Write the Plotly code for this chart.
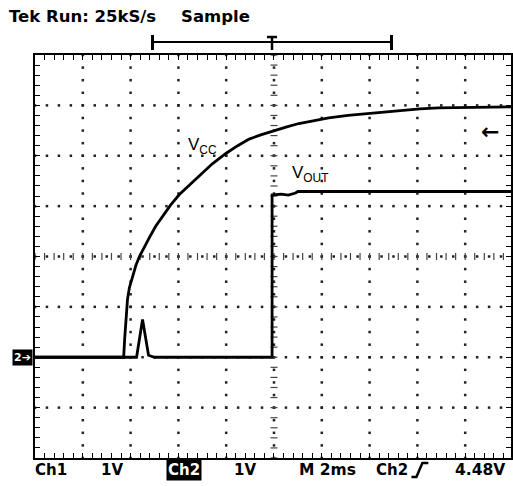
import numpy as np
import plotly.graph_objects as go

# ---- data (time in ms, voltage in V) ----
vcc_t = [-10, -6.29, -6.25, -6.21, -6.17, -6.13, -6.05, -5.92, -5.78, -5.63, -5.42, -5.21, -4.95, -4.67, -4.33, -3.96, -3.55, -3.13, -2.58, -2.0, -1.52, -1.04, -0.52, 0.0, 0.5, 1.04, 1.65, 2.29, 3.1, 4.0, 4.7, 5.42, 6.1, 6.88, 8.3, 9.92]
vcc_v = [0.0, 0.0, 0.35, 0.70, 0.95, 1.15, 1.38, 1.62, 1.82, 2.00, 2.20, 2.38, 2.60, 2.80, 3.02, 3.23, 3.42, 3.60, 3.84, 4.05, 4.20, 4.33, 4.42, 4.50, 4.57, 4.64, 4.70, 4.75, 4.80, 4.84, 4.88, 4.91, 4.93, 4.95, 4.96, 4.97]

vout_t = [-10, -5.75, -5.5, -5.25, -5.0, -0.08, -0.08, 0.3, 0.6, 0.9, 1.0, 9.92]
vout_v = [0.0, 0.0, 0.75, 0.04, 0.0, 0.0, 3.22, 3.24, 3.22, 3.26, 3.29, 3.29]

X_RANGE = [-10, 9.917]
Y_RANGE = [-2, 6]

W, H = 513, 486
L, R, T, B = 35, 0, 55, 28
PW, PH = W - L - R, H - T - B

def px(x):
    return (x - L) / PW

def py(y):
    return (H - B - y) / PH

fig = go.Figure()

# dotted graticule
gx, gy = [], []
for t in [-8, -6, -4, -2, 2, 4, 6, 8]:
    for v in np.arange(-2, 6.01, 0.25):
        gx.append(t); gy.append(v)
for v in [-1, 0, 1, 3, 4, 5]:
    for t in np.arange(-10, 10.01, 0.5):
        gx.append(t); gy.append(v)
for t in np.arange(-10, 10.01, 0.5):
    gx.append(t); gy.append(2)
for v in np.arange(-2, 6.01, 0.25):
    gx.append(0); gy.append(v)
fig.add_trace(go.Scatter(x=gx, y=gy, mode="markers",
                         marker=dict(symbol="square", size=2.5, color="#222"),
                         hoverinfo="skip", showlegend=False))
# center crosshair tick marks
cx = list(np.arange(-10, 10.01, 0.4))
fig.add_trace(go.Scatter(x=cx, y=[2] * len(cx), mode="markers",
                         marker=dict(symbol="line-ns", size=5, line=dict(width=1.2, color="#444")),
                         hoverinfo="skip", showlegend=False))
cy = list(np.arange(-2, 6.01, 0.2))
fig.add_trace(go.Scatter(x=[0] * len(cy), y=cy, mode="markers",
                         marker=dict(symbol="line-ew", size=5, line=dict(width=1.2, color="#444")),
                         hoverinfo="skip", showlegend=False))

# traces
fig.add_trace(go.Scatter(x=vcc_t, y=vcc_v, mode="lines", line=dict(color="black", width=2.8),
                         hoverinfo="skip", showlegend=False))
fig.add_trace(go.Scatter(x=vout_t, y=vout_v, mode="lines", line=dict(color="black", width=2.8),
                         hoverinfo="skip", showlegend=False))

axis_common = dict(showgrid=False, zeroline=False, showline=True, linecolor="black", linewidth=2,
                   mirror="ticks", ticks="inside", ticklen=5, tickwidth=1.3, tickcolor="black",
                   showticklabels=False, fixedrange=True)
fig.update_xaxes(range=X_RANGE, tick0=-10, dtick=0.4, **axis_common)
fig.update_yaxes(range=Y_RANGE, tick0=-2, dtick=0.2, **axis_common)

FONT = "Liberation Sans, Arial, sans-serif"
WIDEFONT = "DejaVu Sans, sans-serif"
ann = []
def text(x, y, s, size=15, color="black", xanchor="center", bg=None, family=FONT):
    d = dict(x=px(x), y=py(y), xref="paper", yref="paper", text=s, showarrow=False,
             font=dict(family=family, size=size, color=color), xanchor=xanchor, yanchor="middle")
    if bg:
        d.update(bgcolor=bg, borderpad=1)
    ann.append(d)

text(7, 16, "<b>Tek Run: 25kS/s</b>", size=16.5, xanchor="left", family=WIDEFONT)
text(180, 16, "<b>Sample</b>", size=16.5, xanchor="left", family=WIDEFONT)
text(51, 470, "<b>Ch1</b>", size=15, family=WIDEFONT)
text(112, 470, "<b>1V</b>", size=15, family=WIDEFONT)
text(185, 470, "<b>Ch2</b>", size=15, color="white", bg="black", family=WIDEFONT)
text(246, 470, "<b>1V</b>", size=15, family=WIDEFONT)
text(329, 470, "<b>M 2ms</b>", size=15.5, family=WIDEFONT)
text(393, 470, "<b>Ch2</b>", size=15, family=WIDEFONT)
text(482, 470, "<b>4.48V</b>", size=15.5, family=WIDEFONT)
text(22, 357, "<b>2➔</b>", size=11, color="white", bg="black", family=WIDEFONT)
text(492, 131, "<b>←</b>", size=22, family=WIDEFONT)
text(187, 146, "V<sub>CC</sub>", size=17, xanchor="left")
text(291, 174, "V<sub>OUT</sub>", size=17, xanchor="left")
fig.update_layout(annotations=ann)

shapes = []
def line(x0, y0, x1, y1, w=2):
    shapes.append(dict(type="line", xref="paper", yref="paper", x0=px(x0), y0=py(y0), x1=px(x1), y1=py(y1),
                       line=dict(color="black", width=w)))
# record bracket
line(153, 42, 393, 42, 2)
line(153, 35, 153, 50, 3)
line(393, 35, 393, 50, 3)
line(273, 37, 273, 50, 2.5)
line(268, 37, 278, 37, 2.5)
# rising edge symbol
shapes.append(dict(type="path", xref="paper", yref="paper",
                   path=f"M {px(413)},{py(477)} L {px(418)},{py(477)} L {px(424)},{py(463)} L {px(430)},{py(463)}",
                   line=dict(color="black", width=2.5)))
fig.update_layout(shapes=shapes)

fig.update_layout(width=W, height=H, margin=dict(l=L, r=R, t=T, b=B),
                  paper_bgcolor="white", plot_bgcolor="white")
fig.write_html("out.html", config={"displayModeBar": False},
               post_script="document.body.style.margin='0px';document.body.style.overflow='hidden';")
